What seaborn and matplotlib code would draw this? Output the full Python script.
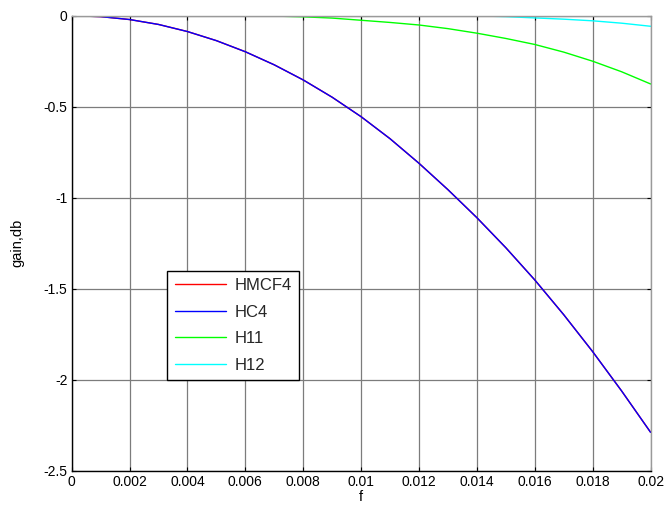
import numpy as np
import pandas as pd
import matplotlib
matplotlib.use("Agg")
import matplotlib.pyplot as plt
import seaborn as sns

# frequency grid
f = [0.000, 0.001, 0.002, 0.003, 0.004, 0.005, 0.006, 0.007, 0.008, 0.009, 0.010,
     0.011, 0.012, 0.013, 0.014, 0.015, 0.016, 0.017, 0.018, 0.019, 0.020]

# gain in dB for each filter
hmcf4 = [0.0, -0.005, -0.021, -0.048, -0.087, -0.137, -0.198, -0.270, -0.353, -0.448, -0.555,
         -0.676, -0.811, -0.956, -1.110, -1.275, -1.452, -1.643, -1.846, -2.062, -2.289]
hc4 = [0.0, -0.005, -0.021, -0.048, -0.087, -0.137, -0.198, -0.270, -0.353, -0.448, -0.555,
       -0.676, -0.811, -0.956, -1.110, -1.275, -1.452, -1.643, -1.846, -2.062, -2.289]
h11 = [0.0, 0.0, 0.0, 0.0, 0.0, 0.0, 0.0, -0.002, -0.006, -0.013, -0.025,
       -0.037, -0.051, -0.071, -0.096, -0.125, -0.158, -0.200, -0.250, -0.308, -0.375]
h12 = [0.0, 0.0, 0.0, 0.0, 0.0, 0.0, 0.0, 0.0, 0.0, 0.0, 0.0,
       0.0, 0.0, 0.0, -0.001, -0.005, -0.012, -0.019, -0.028, -0.041, -0.058]

names = ["HMCF4", "HC4", "H11", "H12"]
colors = ["#ff0000", "#0000ff", "#00ff00", "#00ffff"]
xticks = [0, 0.002, 0.004, 0.006, 0.008, 0.01, 0.012, 0.014, 0.016, 0.018, 0.02]
xticklabels = ["0", "0.002", "0.004", "0.006", "0.008", "0.01", "0.012", "0.014", "0.016", "0.018", "0.02"]
yticks = [-2.5, -2, -1.5, -1, -0.5, 0]
yticklabels = ["-2.5", "-2", "-1.5", "-1", "-0.5", "0"]

df = pd.concat([
    pd.DataFrame({"f": f, "gain": g, "series": n})
    for n, g in zip(names, [hmcf4, hc4, h11, h12])
], ignore_index=True)

sns.set_theme(style="white")
plt.rcParams["font.family"] = ["Liberation Sans", "DejaVu Sans"]

fig = plt.figure(figsize=(6.7, 5.17), dpi=100)
ax = fig.add_axes([0.107, 0.0896, 0.864, 0.880])

sns.lineplot(data=df, x="f", y="gain", hue="series", hue_order=names,
             palette=dict(zip(names, colors)), linewidth=1.0, ax=ax,
             legend=False, clip_on=True)

ax.set_xlim(0, 0.02)
ax.set_ylim(-2.5, 0)
ax.set_xticks(xticks)
ax.set_xticklabels(xticklabels)
ax.set_yticks(yticks)
ax.set_yticklabels(yticklabels)

ax.grid(True, color="#7c7c7c", linewidth=0.9)
ax.set_axisbelow(True)

for side in ["left", "bottom"]:
    ax.spines[side].set_color("black")
    ax.spines[side].set_linewidth(1.0)
for side in ["top", "right"]:
    ax.spines[side].set_visible(True)
    ax.spines[side].set_color("#9a9a9a")
    ax.spines[side].set_linewidth(1.0)

ax.tick_params(axis="both", direction="in", length=3, width=0.8, color="black",
               labelsize=10, labelcolor="black", top=True, right=True,
               bottom=True, left=True, pad=3)

ax.set_xlabel("f", fontsize=10.5, color="black", labelpad=1)
ax.set_ylabel("gain,db", fontsize=10.5, color="black", labelpad=14)

handles = [plt.Line2D([], [], color=c, linewidth=1.0) for c in colors]
leg = ax.legend(handles, names, loc="lower left", bbox_to_anchor=(0.165, 0.199),
                borderaxespad=0, frameon=True, fancybox=False, fontsize=12,
                handlelength=3.1, handletextpad=0.5, labelspacing=0.69,
                borderpad=0.45, edgecolor="black", framealpha=1)
leg.get_frame().set_linewidth(1.0)

fig.savefig("out.png", dpi=100, facecolor="white")
